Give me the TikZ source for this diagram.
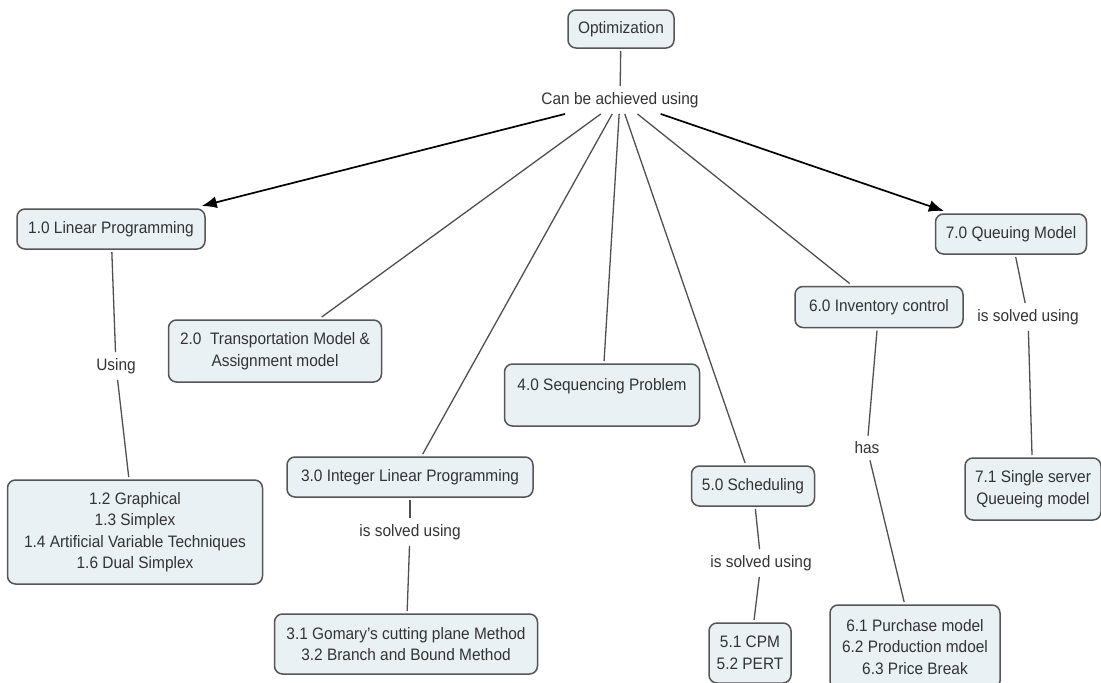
\documentclass[tikz,border=0pt]{standalone}
\usepackage{fontspec}
\setmainfont{Liberation Sans}[FakeStretch=0.93]
\usetikzlibrary{arrows.meta}
\definecolor{boxfill}{HTML}{EAF1F4}
\definecolor{boxline}{HTML}{555555}
\definecolor{ink}{HTML}{333333}
\definecolor{wirecol}{HTML}{4F4F4F}
\begin{document}
\begin{tikzpicture}[x=1pt,y=-1pt,
  every node/.style={font=\fontsize{16.6}{21.5}\selectfont, text=ink},
  concept/.style={draw=boxline, line width=1.5pt, fill=boxfill, rounded corners=8pt,
    align=center, inner sep=0pt, outer sep=3pt},
  phrase/.style={inner xsep=3pt, inner ysep=6pt, align=center},
  wire/.style={draw=wirecol, line width=1.3pt},
  arrowwire/.style={draw=black, line width=1.7pt, -{Latex[length=15pt,width=12pt]}}
]
\useasboundingbox (0,0) rectangle (1101,683);
\clip (0,0) rectangle (1101,683);

% concepts
\node[concept, minimum width=106pt, minimum height=38pt] (opt) at (621,29) {Optimization};
\node[concept, minimum width=188pt, minimum height=40pt] (lp) at (111,229) {1.0 Linear Programming};
\node[concept, minimum width=213pt, minimum height=62pt] (tm) at (275,351)
  {2.0\ \ Transportation Model \&\\Assignment model};
\node[concept, minimum width=246pt, minimum height=40pt] (ilp) at (410,477) {3.0 Integer Linear Programming};
\node[concept, minimum width=195pt, minimum height=62pt] (seq) at (602,395) {4.0 Sequencing Problem\\\mbox{}};
\node[concept, minimum width=123pt, minimum height=40pt] (sch) at (753,486) {5.0 Scheduling};
\node[concept, minimum width=168pt, minimum height=41pt] (inv) at (879,307) {6.0 Inventory control};
\node[concept, minimum width=151pt, minimum height=40pt] (que) at (1011,234) {7.0 Queuing Model};

\node[concept, minimum width=255pt, minimum height=104pt] (lpm) at (135,532)
  {1.2 Graphical\\1.3 Simplex\\1.4 Artificial Variable Techniques\\1.6 Dual Simplex};
\node[concept, minimum width=263pt, minimum height=60pt] (ilpm) at (406,644)
  {3.1 Gomary’s cutting plane Method\\3.2 Branch and Bound Method};
\node[concept, minimum width=82pt, minimum height=60pt] (schm) at (750,653)
  {5.1 CPM\\5.2 PERT};
\node[concept, minimum width=170pt, minimum height=84pt] (invm) at (915,647)
  {6.1 Purchase model\\6.2 Production mdoel\\6.3 Price Break};
\node[concept, minimum width=136pt, minimum height=62pt] (sq) at (1033,489)
  {7.1 Single server\\Queueing model};

% linking phrases
\node[phrase] (ach) at (620,100) {Can be achieved using};
\node[phrase] (using) at (116,366) {Using};
\node[phrase] (solvA) at (410,532) {is solved using};
\node[phrase] (solvB) at (761,563) {is solved using};
\node[phrase] (has) at (867,448) {has};
\node[phrase] (solvC) at (1028,317) {is solved using};

% connectors
\draw[wire] (opt) -- (ach);
\draw[arrowwire] (ach) -- (lp);
\draw[wire] (ach) -- (tm);
\draw[wire] (ach) -- (ilp);
\draw[wire] (ach) -- (seq);
\draw[wire] (ach) -- (sch);
\draw[wire] (ach) -- (inv);
\draw[arrowwire] (ach) -- (que);

\draw[wire] (lp) -- (using);
\draw[wire] (using) -- (lpm);
\draw[wire] (ilp) -- (solvA);
\draw[wire] (solvA) -- (ilpm);
\draw[wire] (sch) -- (solvB);
\draw[wire] (solvB) -- (schm);
\draw[wire] (inv) -- (has);
\draw[wire] (has) -- (invm);
\draw[wire] (que) -- (solvC);
\draw[wire] (solvC) -- (sq);
\end{tikzpicture}
\end{document}
